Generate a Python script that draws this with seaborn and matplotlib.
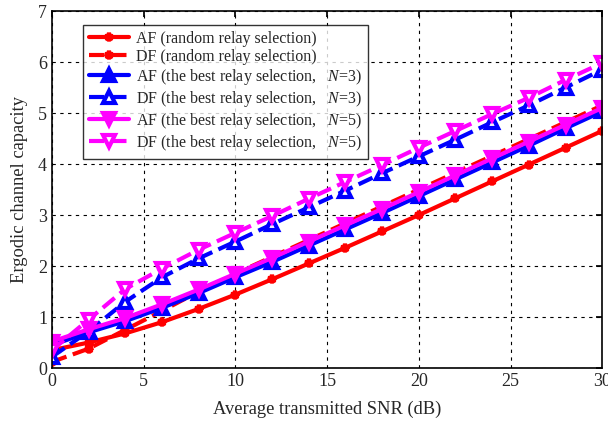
import numpy as np
import pandas as pd
import matplotlib
matplotlib.use("Agg")
import matplotlib.pyplot as plt
import seaborn as sns

# SNR-punkter (dB)
snr = [0, 2, 4, 6, 8, 10, 12, 14, 16, 18, 20, 22, 24, 26, 28, 30]

af_random = [0.35, 0.50, 0.68, 0.90, 1.16, 1.44, 1.74, 2.05, 2.36, 2.68, 3.00, 3.33, 3.66, 3.99, 4.32, 4.65]
df_random = [0.12, 0.38, 0.75, 1.12, 1.50, 1.85, 2.18, 2.51, 2.84, 3.17, 3.50, 3.83, 4.16, 4.49, 4.82, 5.15]
af_best_n3 = [0.45, 0.70, 0.92, 1.18, 1.47, 1.78, 2.08, 2.40, 2.72, 3.04, 3.37, 3.70, 4.03, 4.36, 4.70, 5.03]
df_best_n3 = [0.22, 0.72, 1.30, 1.78, 2.15, 2.48, 2.82, 3.15, 3.48, 3.82, 4.15, 4.48, 4.82, 5.15, 5.50, 5.85]
af_best_n5 = [0.52, 0.76, 0.98, 1.25, 1.54, 1.85, 2.16, 2.48, 2.80, 3.12, 3.45, 3.78, 4.11, 4.44, 4.77, 5.10]
df_best_n5 = [0.35, 0.95, 1.55, 1.95, 2.32, 2.65, 2.98, 3.32, 3.65, 3.98, 4.32, 4.65, 4.98, 5.30, 5.65, 5.98]

labels = [
    "AF (random relay selection)",
    "DF (random relay selection)",
    "AF (the best relay selection,   $N$=3)",
    "DF (the best relay selection,   $N$=3)",
    "AF (the best relay selection,   $N$=5)",
    "DF (the best relay selection,   $N$=5)",
]

sns.set_theme(style="white")
plt.rcParams["font.family"] = ["Liberation Serif", "DejaVu Serif"]
plt.rcParams["mathtext.fontset"] = "custom"
plt.rcParams["mathtext.it"] = "Liberation Serif:italic"
plt.rcParams["mathtext.rm"] = "Liberation Serif"

fig = plt.figure(figsize=(6.08, 4.24), dpi=100)
ax = fig.add_axes([0.0855, 0.132, 0.905, 0.842])

series = [af_random, df_random, af_best_n3, df_best_n3, af_best_n5, df_best_n5]
styles = [
    dict(color="#ff0000", linestyle="-", marker="*", markersize=6, markerfacecolor="#ff0000"),
    dict(color="#ff0000", linestyle="--", marker="*", markersize=6, markerfacecolor="#ff0000"),
    dict(color="#0000ff", linestyle="-", marker="^", markersize=9, markerfacecolor="#0000ff"),
    dict(color="#0000ff", linestyle="--", marker="^", markersize=9, markerfacecolor="white"),
    dict(color="#ff00ff", linestyle="-", marker="v", markersize=9, markerfacecolor="#ff00ff"),
    dict(color="#ff00ff", linestyle="--", marker="v", markersize=9, markerfacecolor="white"),
]

for vals, lab, st in zip(series, labels, styles):
    d = pd.DataFrame({"snr": snr, "cap": vals})
    sns.lineplot(data=d, x="snr", y="cap", ax=ax, label=lab, linewidth=3,
                 markeredgewidth=3, markeredgecolor=st["color"], **st)

ax.set_xlim(0, 30)
ax.set_ylim(0, 7)
ax.set_xticks([0, 5, 10, 15, 20, 25, 30])
ax.set_yticks(range(0, 8))
ax.grid(True, color="black", linestyle=(0, (3, 4)), linewidth=0.8)
ax.tick_params(direction="in", top=True, right=True, labelsize=13, length=4, color="black")
for s in ax.spines.values():
    s.set_color("black")
    s.set_linewidth(1.2)

ax.set_xlabel("Average transmitted SNR (dB)", fontsize=13.3, labelpad=8)
ax.set_ylabel("Ergodic channel capacity", fontsize=13.3, labelpad=7)

leg = ax.legend(loc="upper left", bbox_to_anchor=(0.056, 0.962), borderaxespad=0,
                fontsize=11.5, frameon=True, fancybox=False, handlelength=2.5,
                handletextpad=0.4, labelspacing=0.12, edgecolor="black", borderpad=0.4)
leg.get_frame().set_linewidth(1.0)

fig.savefig("out.png", dpi=100)
